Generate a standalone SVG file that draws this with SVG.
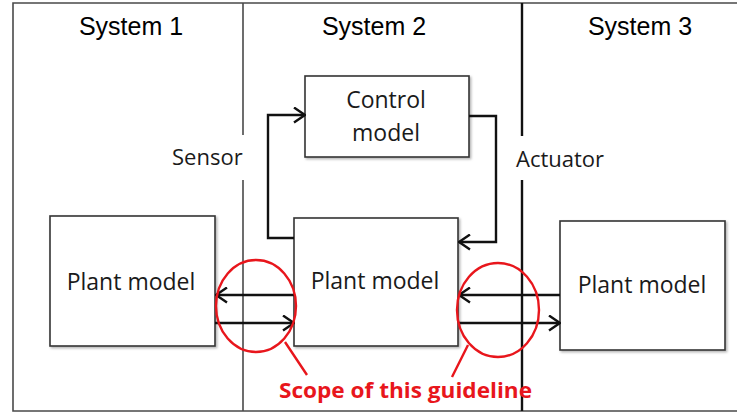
<svg xmlns="http://www.w3.org/2000/svg" width="737" height="414" viewBox="0 0 737 414">
  <style>
    .frame { stroke: #4a4a4a; stroke-width: 1.6; fill: none; }
    .divider { stroke: #111; stroke-width: 2.4; fill: none; }
    .box { fill: #fff; stroke: #333; stroke-width: 1.6; }
    .sys { font-family: "Liberation Sans", Arial, sans-serif; font-size: 25px; fill: #000; text-anchor: middle; }
    .lbl { font-family: "Open Sans", "Liberation Sans", sans-serif; font-size: 23px; fill: #1a1a1a; text-anchor: middle; }
    .side { font-family: "Open Sans", "Liberation Sans", sans-serif; font-size: 22px; fill: #1a1a1a; }
    .conn { stroke: #111; stroke-width: 2.4; fill: none; marker-end: url(#arrow); }
    .scope { stroke: #e8161c; stroke-width: 2.4; fill: none; }
    .scope-text { font-family: "Open Sans", "Liberation Sans", sans-serif; font-weight: bold; font-size: 21px; fill: #e8161c; }
  </style>
  <defs>
    <marker id="arrow" viewBox="0 0 13 17" refX="12" refY="8.5" markerWidth="13" markerHeight="17" markerUnits="userSpaceOnUse" orient="auto">
      <path d="M1,1 L12,8.5 L1,16" fill="none" stroke="#111" stroke-width="2.4"/>
    </marker>
    <filter id="shadow" x="-10%" y="-10%" width="125%" height="125%">
      <feDropShadow dx="1.5" dy="1.5" stdDeviation="1.2" flood-color="#000" flood-opacity="0.3"/>
    </filter>
  </defs>

  <!-- outer frame and system dividers -->
  <g id="frame">
    <path class="frame" d="M737,3 H13 V411 H737"/>
    <path class="frame" d="M243,3 V135 M243,180 V411"/>
    <path class="divider" d="M522,3 V136 M522,180 V411"/>
  </g>

  <g id="system-titles">
    <text class="sys" x="131" y="35">System 1</text>
    <text class="sys" x="374" y="35">System 2</text>
    <text class="sys" x="640" y="35">System 3</text>
  </g>

  <g id="sensor-label"><text class="side" x="172" y="165">Sensor</text></g>
  <g id="actuator-label"><text class="side" x="516" y="167">Actuator</text></g>

  <g id="control-model">
    <rect class="box" x="305" y="76" width="164" height="81" filter="url(#shadow)"/>
    <text class="lbl" x="386" y="108">Control</text>
    <text class="lbl" x="386" y="141">model</text>
  </g>

  <g id="plant-model-1">
    <rect class="box" x="50" y="216" width="165" height="130" filter="url(#shadow)"/>
    <text class="lbl" x="131" y="290">Plant model</text>
  </g>

  <g id="plant-model-2">
    <rect class="box" x="294" y="218" width="164" height="128" filter="url(#shadow)"/>
    <text class="lbl" x="375" y="289">Plant model</text>
  </g>

  <g id="plant-model-3">
    <rect class="box" x="560" y="221" width="165" height="129" filter="url(#shadow)"/>
    <text class="lbl" x="642" y="293">Plant model</text>
  </g>

  <g id="connectors">
    <path class="conn" d="M294,238 H268 V115 H305"/>
    <path class="conn" d="M469,116 H496 V242 H459"/>
    <path class="conn" d="M294,295 H216"/>
    <path class="conn" d="M215,323 H294"/>
    <path class="conn" d="M560,295 H459"/>
    <path class="conn" d="M458,323 H560"/>
  </g>

  <g id="scope-marks">
    <ellipse class="scope" cx="256" cy="306" rx="40" ry="46"/>
    <ellipse class="scope" cx="498" cy="310" rx="41" ry="47"/>
    <path class="scope" d="M285,342 L307,375 M468,345 L452,377"/>
    <text class="scope-text" x="279" y="398" textLength="253" lengthAdjust="spacingAndGlyphs">Scope of this guideline</text>
  </g>
</svg>
